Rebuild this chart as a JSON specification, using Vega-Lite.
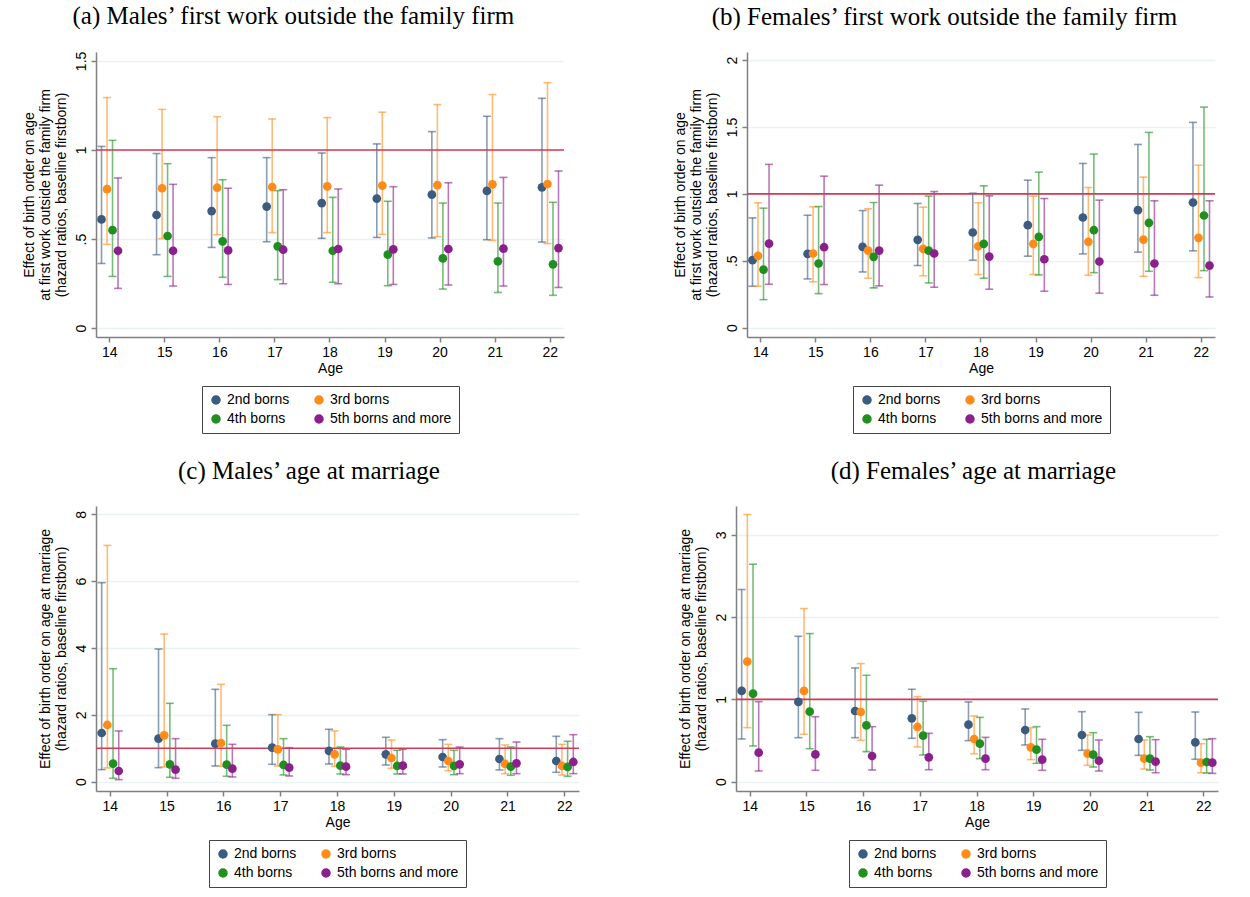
{
  "$schema": "https://vega.github.io/schema/vega-lite/v6.json",
  "background": "white",
  "padding": {"left": 22, "top": 4, "right": 5, "bottom": 5},
  "datasets": {
    "a": [
      {"age":14,"group":"2nd borns","est":0.61,"lo":0.363,"hi":1.02},
      {"age":14,"group":"3rd borns","est":0.78,"lo":0.47,"hi":1.294},
      {"age":14,"group":"4th borns","est":0.55,"lo":0.29,"hi":1.054},
      {"age":14,"group":"5th borns and more","est":0.434,"lo":0.223,"hi":0.843},
      {"age":15,"group":"2nd borns","est":0.635,"lo":0.412,"hi":0.98},
      {"age":15,"group":"3rd borns","est":0.785,"lo":0.502,"hi":1.228},
      {"age":15,"group":"4th borns","est":0.517,"lo":0.29,"hi":0.923},
      {"age":15,"group":"5th borns and more","est":0.434,"lo":0.236,"hi":0.807},
      {"age":16,"group":"2nd borns","est":0.657,"lo":0.453,"hi":0.957},
      {"age":16,"group":"3rd borns","est":0.788,"lo":0.524,"hi":1.187},
      {"age":16,"group":"4th borns","est":0.487,"lo":0.285,"hi":0.833},
      {"age":16,"group":"5th borns and more","est":0.436,"lo":0.245,"hi":0.785},
      {"age":17,"group":"2nd borns","est":0.682,"lo":0.485,"hi":0.957},
      {"age":17,"group":"3rd borns","est":0.792,"lo":0.536,"hi":1.174},
      {"age":17,"group":"4th borns","est":0.459,"lo":0.272,"hi":0.772},
      {"age":17,"group":"5th borns and more","est":0.44,"lo":0.249,"hi":0.777},
      {"age":18,"group":"2nd borns","est":0.702,"lo":0.504,"hi":0.983},
      {"age":18,"group":"3rd borns","est":0.796,"lo":0.536,"hi":1.182},
      {"age":18,"group":"4th borns","est":0.434,"lo":0.257,"hi":0.734},
      {"age":18,"group":"5th borns and more","est":0.444,"lo":0.249,"hi":0.781},
      {"age":19,"group":"2nd borns","est":0.727,"lo":0.509,"hi":1.034},
      {"age":19,"group":"3rd borns","est":0.8,"lo":0.526,"hi":1.212},
      {"age":19,"group":"4th borns","est":0.412,"lo":0.238,"hi":0.712},
      {"age":19,"group":"5th borns and more","est":0.442,"lo":0.245,"hi":0.794},
      {"age":20,"group":"2nd borns","est":0.749,"lo":0.506,"hi":1.103},
      {"age":20,"group":"3rd borns","est":0.803,"lo":0.513,"hi":1.255},
      {"age":20,"group":"4th borns","est":0.391,"lo":0.219,"hi":0.702},
      {"age":20,"group":"5th borns and more","est":0.444,"lo":0.242,"hi":0.816},
      {"age":21,"group":"2nd borns","est":0.77,"lo":0.496,"hi":1.189},
      {"age":21,"group":"3rd borns","est":0.807,"lo":0.492,"hi":1.311},
      {"age":21,"group":"4th borns","est":0.375,"lo":0.2,"hi":0.702},
      {"age":21,"group":"5th borns and more","est":0.446,"lo":0.236,"hi":0.846},
      {"age":22,"group":"2nd borns","est":0.79,"lo":0.483,"hi":1.29},
      {"age":22,"group":"3rd borns","est":0.809,"lo":0.474,"hi":1.378},
      {"age":22,"group":"4th borns","est":0.358,"lo":0.184,"hi":0.706},
      {"age":22,"group":"5th borns and more","est":0.449,"lo":0.228,"hi":0.882}
    ],
    "b": [
      {"age":14,"group":"2nd borns","est":0.504,"lo":0.309,"hi":0.82},
      {"age":14,"group":"3rd borns","est":0.536,"lo":0.309,"hi":0.933},
      {"age":14,"group":"4th borns","est":0.434,"lo":0.209,"hi":0.893},
      {"age":14,"group":"5th borns and more","est":0.628,"lo":0.324,"hi":1.22},
      {"age":15,"group":"2nd borns","est":0.551,"lo":0.364,"hi":0.84},
      {"age":15,"group":"3rd borns","est":0.554,"lo":0.342,"hi":0.903},
      {"age":15,"group":"4th borns","est":0.479,"lo":0.254,"hi":0.905},
      {"age":15,"group":"5th borns and more","est":0.601,"lo":0.322,"hi":1.132},
      {"age":16,"group":"2nd borns","est":0.603,"lo":0.416,"hi":0.875},
      {"age":16,"group":"3rd borns","est":0.576,"lo":0.369,"hi":0.888},
      {"age":16,"group":"4th borns","est":0.529,"lo":0.297,"hi":0.935},
      {"age":16,"group":"5th borns and more","est":0.576,"lo":0.312,"hi":1.065},
      {"age":17,"group":"2nd borns","est":0.656,"lo":0.464,"hi":0.928},
      {"age":17,"group":"3rd borns","est":0.589,"lo":0.387,"hi":0.9},
      {"age":17,"group":"4th borns","est":0.576,"lo":0.334,"hi":0.983},
      {"age":17,"group":"5th borns and more","est":0.554,"lo":0.302,"hi":1.017},
      {"age":18,"group":"2nd borns","est":0.711,"lo":0.504,"hi":1.005},
      {"age":18,"group":"3rd borns","est":0.608,"lo":0.397,"hi":0.933},
      {"age":18,"group":"4th borns","est":0.626,"lo":0.369,"hi":1.06},
      {"age":18,"group":"5th borns and more","est":0.531,"lo":0.287,"hi":0.985},
      {"age":19,"group":"2nd borns","est":0.766,"lo":0.534,"hi":1.102},
      {"age":19,"group":"3rd borns","est":0.626,"lo":0.397,"hi":0.983},
      {"age":19,"group":"4th borns","est":0.678,"lo":0.394,"hi":1.162},
      {"age":19,"group":"5th borns and more","est":0.511,"lo":0.272,"hi":0.965},
      {"age":20,"group":"2nd borns","est":0.823,"lo":0.551,"hi":1.227},
      {"age":20,"group":"3rd borns","est":0.641,"lo":0.392,"hi":1.047},
      {"age":20,"group":"4th borns","est":0.728,"lo":0.411,"hi":1.297},
      {"age":20,"group":"5th borns and more","est":0.494,"lo":0.257,"hi":0.953},
      {"age":21,"group":"2nd borns","est":0.878,"lo":0.564,"hi":1.369},
      {"age":21,"group":"3rd borns","est":0.658,"lo":0.384,"hi":1.125},
      {"age":21,"group":"4th borns","est":0.783,"lo":0.421,"hi":1.459},
      {"age":21,"group":"5th borns and more","est":0.479,"lo":0.242,"hi":0.948},
      {"age":22,"group":"2nd borns","est":0.935,"lo":0.574,"hi":1.534},
      {"age":22,"group":"3rd borns","est":0.671,"lo":0.374,"hi":1.214},
      {"age":22,"group":"4th borns","est":0.838,"lo":0.426,"hi":1.648},
      {"age":22,"group":"5th borns and more","est":0.464,"lo":0.229,"hi":0.948}
    ],
    "c": [
      {"age":14,"group":"2nd borns","est":1.456,"lo":0.359,"hi":5.955},
      {"age":14,"group":"3rd borns","est":1.696,"lo":0.409,"hi":7.07},
      {"age":14,"group":"4th borns","est":0.539,"lo":0.1,"hi":3.38},
      {"age":14,"group":"5th borns and more","est":0.319,"lo":0.06,"hi":1.516},
      {"age":15,"group":"2nd borns","est":1.287,"lo":0.419,"hi":3.97},
      {"age":15,"group":"3rd borns","est":1.387,"lo":0.439,"hi":4.419},
      {"age":15,"group":"4th borns","est":0.519,"lo":0.13,"hi":2.344},
      {"age":15,"group":"5th borns and more","est":0.359,"lo":0.1,"hi":1.287},
      {"age":16,"group":"2nd borns","est":1.137,"lo":0.469,"hi":2.763},
      {"age":16,"group":"3rd borns","est":1.157,"lo":0.459,"hi":2.913},
      {"age":16,"group":"4th borns","est":0.509,"lo":0.16,"hi":1.686},
      {"age":16,"group":"5th borns and more","est":0.389,"lo":0.14,"hi":1.117},
      {"age":17,"group":"2nd borns","est":1.017,"lo":0.519,"hi":2.005},
      {"age":17,"group":"3rd borns","est":0.968,"lo":0.469,"hi":2.005},
      {"age":17,"group":"4th borns","est":0.499,"lo":0.2,"hi":1.287},
      {"age":17,"group":"5th borns and more","est":0.419,"lo":0.17,"hi":1.017},
      {"age":18,"group":"2nd borns","est":0.918,"lo":0.529,"hi":1.566},
      {"age":18,"group":"3rd borns","est":0.818,"lo":0.459,"hi":1.516},
      {"age":18,"group":"4th borns","est":0.479,"lo":0.229,"hi":1.037},
      {"age":18,"group":"5th borns and more","est":0.449,"lo":0.209,"hi":0.968},
      {"age":19,"group":"2nd borns","est":0.818,"lo":0.499,"hi":1.327},
      {"age":19,"group":"3rd borns","est":0.708,"lo":0.399,"hi":1.247},
      {"age":19,"group":"4th borns","est":0.469,"lo":0.229,"hi":0.938},
      {"age":19,"group":"5th borns and more","est":0.479,"lo":0.229,"hi":0.968},
      {"age":20,"group":"2nd borns","est":0.738,"lo":0.439,"hi":1.257},
      {"age":20,"group":"3rd borns","est":0.618,"lo":0.329,"hi":1.117},
      {"age":20,"group":"4th borns","est":0.469,"lo":0.209,"hi":0.938},
      {"age":20,"group":"5th borns and more","est":0.519,"lo":0.239,"hi":1.037},
      {"age":21,"group":"2nd borns","est":0.678,"lo":0.349,"hi":1.287},
      {"age":21,"group":"3rd borns","est":0.529,"lo":0.239,"hi":1.097},
      {"age":21,"group":"4th borns","est":0.449,"lo":0.19,"hi":1.037},
      {"age":21,"group":"5th borns and more","est":0.549,"lo":0.239,"hi":1.187},
      {"age":22,"group":"2nd borns","est":0.618,"lo":0.279,"hi":1.357},
      {"age":22,"group":"3rd borns","est":0.469,"lo":0.2,"hi":1.117},
      {"age":22,"group":"4th borns","est":0.439,"lo":0.16,"hi":1.207},
      {"age":22,"group":"5th borns and more","est":0.589,"lo":0.239,"hi":1.406}
    ],
    "d": [
      {"age":14,"group":"2nd borns","est":1.103,"lo":0.519,"hi":2.335},
      {"age":14,"group":"3rd borns","est":1.459,"lo":0.657,"hi":3.247},
      {"age":14,"group":"4th borns","est":1.07,"lo":0.434,"hi":2.643},
      {"age":14,"group":"5th borns and more","est":0.353,"lo":0.13,"hi":0.973},
      {"age":15,"group":"2nd borns","est":0.969,"lo":0.535,"hi":1.767},
      {"age":15,"group":"3rd borns","est":1.103,"lo":0.576,"hi":2.104},
      {"age":15,"group":"4th borns","est":0.851,"lo":0.401,"hi":1.8},
      {"age":15,"group":"5th borns and more","est":0.332,"lo":0.138,"hi":0.79},
      {"age":16,"group":"2nd borns","est":0.859,"lo":0.535,"hi":1.382},
      {"age":16,"group":"3rd borns","est":0.847,"lo":0.503,"hi":1.435},
      {"age":16,"group":"4th borns","est":0.685,"lo":0.365,"hi":1.293},
      {"age":16,"group":"5th borns and more","est":0.312,"lo":0.142,"hi":0.669},
      {"age":17,"group":"2nd borns","est":0.77,"lo":0.527,"hi":1.123},
      {"age":17,"group":"3rd borns","est":0.665,"lo":0.422,"hi":1.034},
      {"age":17,"group":"4th borns","est":0.559,"lo":0.324,"hi":0.977},
      {"age":17,"group":"5th borns and more","est":0.296,"lo":0.146,"hi":0.588},
      {"age":18,"group":"2nd borns","est":0.693,"lo":0.499,"hi":0.969},
      {"age":18,"group":"3rd borns","est":0.519,"lo":0.34,"hi":0.799},
      {"age":18,"group":"4th borns","est":0.462,"lo":0.28,"hi":0.782},
      {"age":18,"group":"5th borns and more","est":0.28,"lo":0.146,"hi":0.539},
      {"age":19,"group":"2nd borns","est":0.628,"lo":0.446,"hi":0.884},
      {"age":19,"group":"3rd borns","est":0.418,"lo":0.268,"hi":0.657},
      {"age":19,"group":"4th borns","est":0.389,"lo":0.223,"hi":0.669},
      {"age":19,"group":"5th borns and more","est":0.268,"lo":0.138,"hi":0.515},
      {"age":20,"group":"2nd borns","est":0.567,"lo":0.381,"hi":0.851},
      {"age":20,"group":"3rd borns","est":0.34,"lo":0.199,"hi":0.567},
      {"age":20,"group":"4th borns","est":0.328,"lo":0.178,"hi":0.596},
      {"age":20,"group":"5th borns and more","est":0.255,"lo":0.13,"hi":0.507},
      {"age":21,"group":"2nd borns","est":0.519,"lo":0.32,"hi":0.843},
      {"age":21,"group":"3rd borns","est":0.28,"lo":0.154,"hi":0.507},
      {"age":21,"group":"4th borns","est":0.28,"lo":0.142,"hi":0.547},
      {"age":21,"group":"5th borns and more","est":0.243,"lo":0.109,"hi":0.511},
      {"age":22,"group":"2nd borns","est":0.478,"lo":0.272,"hi":0.847},
      {"age":22,"group":"3rd borns","est":0.231,"lo":0.109,"hi":0.462},
      {"age":22,"group":"4th borns","est":0.239,"lo":0.105,"hi":0.515},
      {"age":22,"group":"5th borns and more","est":0.231,"lo":0.101,"hi":0.523}
    ]
  },
  "vconcat": [
    {
      "hconcat": [
        {
          "data": {"name": "a"},
          "width": 468, "height": 285,
          "title": "(a) Males’ first work outside the family firm",
          "encoding": {
            "x": {"field": "age", "type": "ordinal", "scale": {"paddingInner": 0.6, "paddingOuter": 0.05}, "axis": {"title": "Age"}},
            "xOffset": {"field": "group", "type": "nominal"},
            "color": {"field": "group", "type": "nominal", "scale": {"domain": ["2nd borns", "3rd borns", "4th borns", "5th borns and more"], "range": ["#3b5b80", "#ff8c1a", "#1f8f1f", "#8b1f8b"]}, "legend": {"title": null}}
          },
          "layer": [
            {"mark": {"type": "rule", "strokeWidth": 1.6, "opacity": 0.6},
             "encoding": {
               "y": {"field": "lo", "type": "quantitative", "scale": {"domain": [-0.05, 1.55], "nice": false, "zero": false},
                     "axis": {"values": [0, 0.5, 1, 1.5], "labelExpr": "datum.value == 0.5 ? '.5' : toString(datum.value)", "title": ["Effect of birth order on age", "at first work outside the family firm", "(hazard ratios, baseline firstborn)"]}},
               "y2": {"field": "hi"}
             }},
            {"mark": {"type": "tick", "orient": "horizontal", "size": 8, "thickness": 1.6, "opacity": 0.6}, "encoding": {"y": {"field": "lo", "type": "quantitative"}}},
            {"mark": {"type": "tick", "orient": "horizontal", "size": 8, "thickness": 1.6, "opacity": 0.6}, "encoding": {"y": {"field": "hi", "type": "quantitative"}}},
            {"data": {"values": [{"ref": 1}]}, "mark": {"type": "rule", "color": "#d33a56", "strokeWidth": 1.6}, "encoding": {"x": null, "xOffset": null, "color": null, "y": {"field": "ref", "type": "quantitative"}}},
            {"mark": {"type": "point", "filled": true, "size": 76, "opacity": 1}, "encoding": {"y": {"field": "est", "type": "quantitative"}}}
          ]
        },
        {
          "data": {"name": "b"},
          "width": 468, "height": 285,
          "title": "(b) Females’ first work outside the family firm",
          "encoding": {
            "x": {"field": "age", "type": "ordinal", "scale": {"paddingInner": 0.6, "paddingOuter": 0.05}, "axis": {"title": "Age"}},
            "xOffset": {"field": "group", "type": "nominal"},
            "color": {"field": "group", "type": "nominal", "scale": {"domain": ["2nd borns", "3rd borns", "4th borns", "5th borns and more"], "range": ["#3b5b80", "#ff8c1a", "#1f8f1f", "#8b1f8b"]}, "legend": {"title": null}}
          },
          "layer": [
            {"mark": {"type": "rule", "strokeWidth": 1.6, "opacity": 0.6},
             "encoding": {
               "y": {"field": "lo", "type": "quantitative", "scale": {"domain": [-0.07, 2.06], "nice": false, "zero": false},
                     "axis": {"values": [0, 0.5, 1, 1.5, 2], "labelExpr": "datum.value == 0.5 ? '.5' : toString(datum.value)", "title": ["Effect of birth order on age", "at first work outside the family firm", "(hazard ratios, baseline firstborn)"]}},
               "y2": {"field": "hi"}
             }},
            {"mark": {"type": "tick", "orient": "horizontal", "size": 8, "thickness": 1.6, "opacity": 0.6}, "encoding": {"y": {"field": "lo", "type": "quantitative"}}},
            {"mark": {"type": "tick", "orient": "horizontal", "size": 8, "thickness": 1.6, "opacity": 0.6}, "encoding": {"y": {"field": "hi", "type": "quantitative"}}},
            {"data": {"values": [{"ref": 1}]}, "mark": {"type": "rule", "color": "#d33a56", "strokeWidth": 1.6}, "encoding": {"x": null, "xOffset": null, "color": null, "y": {"field": "ref", "type": "quantitative"}}},
            {"mark": {"type": "point", "filled": true, "size": 76, "opacity": 1}, "encoding": {"y": {"field": "est", "type": "quantitative"}}}
          ]
        }
      ],
      "spacing": 108,
      "resolve": {"scale": {"color": "independent", "x": "independent", "y": "independent", "xOffset": "independent"}, "legend": {"color": "independent"}}
    },
    {
      "hconcat": [
        {
          "data": {"name": "c"},
          "width": 483, "height": 285,
          "title": "(c) Males’ age at marriage",
          "encoding": {
            "x": {"field": "age", "type": "ordinal", "scale": {"paddingInner": 0.6, "paddingOuter": 0.05}, "axis": {"title": "Age"}},
            "xOffset": {"field": "group", "type": "nominal"},
            "color": {"field": "group", "type": "nominal", "scale": {"domain": ["2nd borns", "3rd borns", "4th borns", "5th borns and more"], "range": ["#3b5b80", "#ff8c1a", "#1f8f1f", "#8b1f8b"]}, "legend": {"title": null}}
          },
          "layer": [
            {"mark": {"type": "rule", "strokeWidth": 1.6, "opacity": 0.6},
             "encoding": {
               "y": {"field": "lo", "type": "quantitative", "scale": {"domain": [-0.28, 8.25], "nice": false, "zero": false},
                     "axis": {"values": [0, 2, 4, 6, 8], "labelExpr": "toString(datum.value)", "title": ["Effect of birth order on age at marriage", "(hazard ratios, baseline firstborn)"]}},
               "y2": {"field": "hi"}
             }},
            {"mark": {"type": "tick", "orient": "horizontal", "size": 8, "thickness": 1.6, "opacity": 0.6}, "encoding": {"y": {"field": "lo", "type": "quantitative"}}},
            {"mark": {"type": "tick", "orient": "horizontal", "size": 8, "thickness": 1.6, "opacity": 0.6}, "encoding": {"y": {"field": "hi", "type": "quantitative"}}},
            {"data": {"values": [{"ref": 1}]}, "mark": {"type": "rule", "color": "#d33a56", "strokeWidth": 1.6}, "encoding": {"x": null, "xOffset": null, "color": null, "y": {"field": "ref", "type": "quantitative"}}},
            {"mark": {"type": "point", "filled": true, "size": 76, "opacity": 1}, "encoding": {"y": {"field": "est", "type": "quantitative"}}}
          ]
        },
        {
          "data": {"name": "d"},
          "width": 482, "height": 285,
          "title": {"text": "(d) Females’ age at marriage", "dx": 25},
          "encoding": {
            "x": {"field": "age", "type": "ordinal", "scale": {"paddingInner": 0.6, "paddingOuter": 0.05}, "axis": {"title": "Age"}},
            "xOffset": {"field": "group", "type": "nominal"},
            "color": {"field": "group", "type": "nominal", "scale": {"domain": ["2nd borns", "3rd borns", "4th borns", "5th borns and more"], "range": ["#3b5b80", "#ff8c1a", "#1f8f1f", "#8b1f8b"]}, "legend": {"title": null}}
          },
          "layer": [
            {"mark": {"type": "rule", "strokeWidth": 1.6, "opacity": 0.6},
             "encoding": {
               "y": {"field": "lo", "type": "quantitative", "scale": {"domain": [-0.113, 3.35], "nice": false, "zero": false},
                     "axis": {"values": [0, 1, 2, 3], "labelExpr": "toString(datum.value)", "title": ["Effect of birth order on age at marriage", "(hazard ratios, baseline firstborn)"]}},
               "y2": {"field": "hi"}
             }},
            {"mark": {"type": "tick", "orient": "horizontal", "size": 8, "thickness": 1.6, "opacity": 0.6}, "encoding": {"y": {"field": "lo", "type": "quantitative"}}},
            {"mark": {"type": "tick", "orient": "horizontal", "size": 8, "thickness": 1.6, "opacity": 0.6}, "encoding": {"y": {"field": "hi", "type": "quantitative"}}},
            {"data": {"values": [{"ref": 1}]}, "mark": {"type": "rule", "color": "#d33a56", "strokeWidth": 1.6}, "encoding": {"x": null, "xOffset": null, "color": null, "y": {"field": "ref", "type": "quantitative"}}},
            {"mark": {"type": "point", "filled": true, "size": 76, "opacity": 1}, "encoding": {"y": {"field": "est", "type": "quantitative"}}}
          ]
        }
      ],
      "spacing": 98,
      "resolve": {"scale": {"color": "independent", "x": "independent", "y": "independent", "xOffset": "independent"}, "legend": {"color": "independent"}}
    }
  ],
  "spacing": 25,
  "resolve": {"scale": {"color": "independent", "x": "independent", "y": "independent", "xOffset": "independent"}, "legend": {"color": "independent"}},
  "config": {
    "font": "Liberation Sans",
    "view": {"stroke": null},
    "axis": {"labelFont": "Liberation Sans", "labelFontSize": 14, "titleFont": "Liberation Sans", "titleFontSize": 14, "titleFontWeight": "normal", "labelColor": "#000", "titleColor": "#000", "domainColor": "#808080", "domainWidth": 1.5, "tickColor": "#808080", "tickWidth": 1.5, "tickSize": 5, "gridColor": "#ebf2f3", "gridWidth": 1.5, "labelPadding": 3},
    "axisX": {"grid": false, "labelAngle": 0, "titlePadding": 2},
    "axisY": {"grid": true, "labelAngle": -90, "titlePadding": 6, "titleLineHeight": 16},
    "legend": {"orient": "bottom", "direction": "horizontal", "columns": 2, "strokeColor": "#444", "strokeWidth": 1, "padding": 7, "symbolType": "circle", "symbolSize": 64, "labelFont": "Liberation Sans", "labelFontSize": 14, "labelColor": "#000", "columnPadding": 22, "rowPadding": 5, "offset": 11, "symbolOpacity": 1, "layout": {"bottom": {"anchor": "middle"}}},
    "title": {"font": "Liberation Serif", "fontSize": 25, "fontWeight": "normal", "color": "#000", "anchor": "middle", "offset": 22, "frame": "bounds"}
  }
}
